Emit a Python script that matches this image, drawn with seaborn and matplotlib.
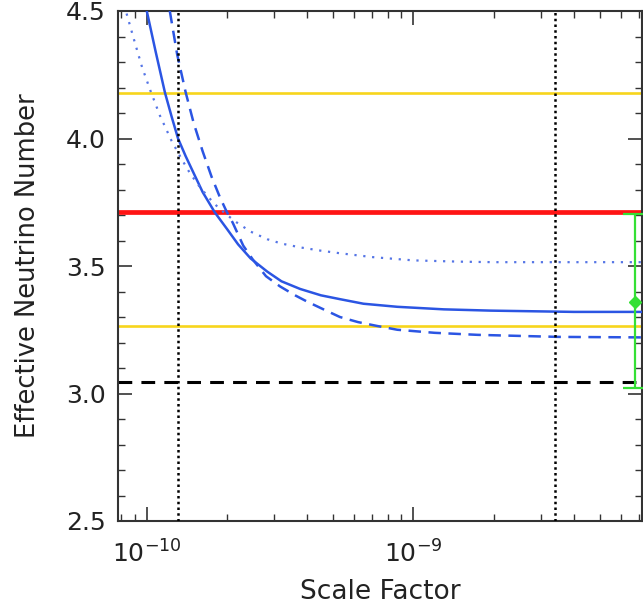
import matplotlib
matplotlib.use("Agg")
import matplotlib.pyplot as plt
import matplotlib.ticker as mticker
import numpy as np
import pandas as pd
import seaborn as sns

# ---- data ----
solid_x = [1.0e-10, 1.08e-10, 1.17e-10, 1.24e-10, 1.31e-10, 1.40e-10, 1.49e-10,
           1.62e-10, 1.80e-10, 2.0e-10, 2.2e-10, 2.45e-10, 2.83e-10, 3.2e-10,
           3.76e-10, 4.5e-10, 5.3e-10, 6.5e-10, 8.7e-10, 1.3e-9, 1.95e-9,
           4.0e-9, 7.2e-9]
solid_y = [4.50, 4.34, 4.18, 4.085, 4.00, 3.93, 3.87,
           3.79, 3.71, 3.645, 3.585, 3.53, 3.478, 3.44,
           3.41, 3.385, 3.37, 3.352, 3.34, 3.33, 3.325,
           3.32, 3.32]

dashed_x = [1.22e-10, 1.30e-10, 1.40e-10, 1.50e-10, 1.62e-10, 1.75e-10, 1.88e-10,
            2.0e-10, 2.1e-10, 2.3e-10, 2.5e-10, 2.8e-10, 3.16e-10, 3.6e-10,
            4.0e-10, 4.6e-10, 5.3e-10, 6.2e-10, 7.3e-10, 8.7e-10, 1.2e-9,
            1.74e-9, 3.5e-9, 7.2e-9]
dashed_y = [4.50, 4.33, 4.18, 4.06, 3.95, 3.85, 3.77,
            3.71, 3.67, 3.58, 3.525, 3.46, 3.42, 3.385,
            3.36, 3.33, 3.30, 3.28, 3.265, 3.25, 3.238,
            3.23, 3.222, 3.22]

dotted_x = [0.84e-10, 0.90e-10, 0.96e-10, 1.03e-10, 1.12e-10, 1.24e-10, 1.35e-10,
            1.45e-10, 1.58e-10, 1.72e-10, 1.85e-10, 2.0e-10, 2.18e-10, 2.45e-10,
            2.83e-10, 3.2e-10, 3.76e-10, 4.5e-10, 5.3e-10, 7.0e-10, 1.0e-9,
            1.5e-9, 2.0e-9, 7.2e-9]
dotted_y = [4.49, 4.38, 4.28, 4.19, 4.09, 3.99, 3.92,
            3.865, 3.81, 3.765, 3.73, 3.70, 3.67, 3.635,
            3.605, 3.588, 3.573, 3.56, 3.55, 3.535, 3.522,
            3.517, 3.515, 3.515]

hlines_yellow = [4.18, 3.263]
hline_red = 3.71
hline_black = 3.046
vlines_dotted = [1.31e-10, 3.39e-9]

err_x = [6.8e-9]
err_y = [3.357]
err_lo = [0.337]
err_hi = [0.345]

x_limits = (7.8e-11, 7.2e-9)
y_limits = (2.5, 4.5)
y_ticks = [2.5, 3.0, 3.5, 4.0, 4.5]
y_tick_labels = ["2.5", "3.0", "3.5", "4.0", "4.5"]
x_ticks = [1e-10, 1e-9]
x_tick_labels = [r"$10^{-10}$", r"$10^{-9}$"]

# ---- plot ----
sns.set_theme(style="white")
plt.rcParams['font.family'] = ['DejaVu Sans']
plt.rcParams['mathtext.fontset'] = 'dejavusans'

fig = plt.figure(figsize=(6.43, 6.08), dpi=100)
ax = fig.add_axes([118/643, 1-521/608, (642-118)/643, (521-11)/608])

blue = "#2b55e3"
for yv in hlines_yellow:
    ax.axhline(yv, color="#f7d51c", lw=1.9, zorder=2)
ax.axhline(hline_red, color="#ff1414", lw=3.4, zorder=2)
ax.axhline(hline_black, color="black", lw=2.2, dashes=(4.5, 3), zorder=2)

sns.lineplot(x=solid_x, y=solid_y, ax=ax, color=blue, lw=1.8,
             sort=False, estimator=None, zorder=3)
sns.lineplot(x=dashed_x, y=dashed_y, ax=ax, color=blue, lw=1.8,
             sort=False, estimator=None, zorder=3).lines[-1].set_dashes((5, 3))
sns.lineplot(x=dotted_x, y=dotted_y, ax=ax, color="#5575e6", lw=1.6,
             sort=False, estimator=None, zorder=3).lines[-1].set_dashes((1, 3))

for xv in vlines_dotted:
    ax.axvline(xv, color="black", lw=1.8, dashes=(1, 1.3), zorder=4)

ax.errorbar(err_x, err_y, yerr=[err_lo, err_hi], fmt="D", color="#35e035",
            ms=6, lw=1.6, capsize=9, capthick=1.6, zorder=5)

ax.set_xscale("log")
ax.set_xlim(*x_limits)
ax.set_ylim(*y_limits)
ax.set_yticks(y_ticks)
ax.set_yticklabels(y_tick_labels)
ax.set_xticks(x_ticks)
ax.set_xticklabels(x_tick_labels)
ax.xaxis.set_minor_locator(mticker.LogLocator(base=10, subs=np.arange(2, 10)))
ax.xaxis.set_minor_formatter(mticker.NullFormatter())
ax.yaxis.set_minor_locator(mticker.MultipleLocator(0.1))

ax.tick_params(which="both", direction="in", top=True, right=True,
               bottom=True, left=True,
               colors="#333333", labelcolor="#222222")
ax.tick_params(which="major", length=10, width=1.2, labelsize=18, pad=9)
ax.tick_params(which="minor", length=5, width=1.0)
ax.tick_params(axis="x", which="major", pad=14)

for s in ax.spines.values():
    s.set_color("#333333")
    s.set_linewidth(1.5)

ax.set_xlabel("Scale Factor", fontsize=19, color="#222222", labelpad=8)
ax.set_ylabel("Effective Neutrino Number", fontsize=18.5, color="#222222", labelpad=18)

fig.savefig("out.png", dpi=100)
